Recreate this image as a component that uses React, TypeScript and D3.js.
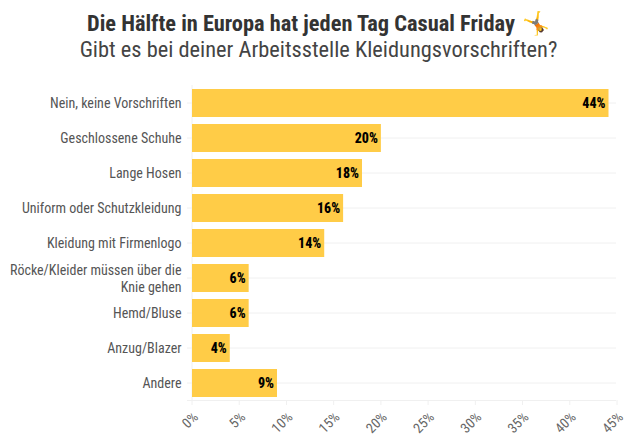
import React from "react";
import * as d3 from "d3";

const categories = ["Nein, keine Vorschriften", "Geschlossene Schuhe", "Lange Hosen", "Uniform oder Schutzkleidung", "Kleidung mit Firmenlogo", "Röcke/Kleider müssen über die|Knie gehen", "Hemd/Bluse", "Anzug/Blazer", "Andere"];
const values = [44.1, 20, 18, 16, 14, 6, 6, 4, 9];
const valueLabels = ["44%", "20%", "18%", "16%", "14%", "6%", "6%", "4%", "9%"];
const xTicks = [0, 5, 10, 15, 20, 25, 30, 35, 40, 45];

const W = 637, H = 443;
const cond = { fontStretch: "condensed" as const };

export default function App() {
  const x = d3.scaleLinear().domain([0, 45]).range([192, 617]);
  const y = d3.scaleBand<number>().domain(d3.range(categories.length)).range([85.5, 400.5]).paddingInner(0.2).paddingOuter(0.1);
  return (
    <svg width={W} height={H} style={{ position: "absolute", left: 0, top: 0, background: "#fff" }} fontFamily="Roboto">
      <g stroke="#f0f0f0" strokeWidth={1}>
        {categories.map((_, i) => {
          const cy = y(i)! + y.bandwidth() / 2;
          return <line key={i} x1={187} x2={616} y1={cy} y2={cy} />;
        })}
        <line x1={187} x2={616} y1={400.5} y2={400.5} />
        {xTicks.map(t => <line key={t} x1={x(t)} x2={x(t)} y1={t === 0 ? 85 : 400} y2={405} />)}
      </g>
      {values.map((v, i) => (
        <rect key={i} x={x(0)} y={y(i)} width={x(v) - x(0)} height={y.bandwidth()} fill="#FFCC47" />
      ))}
      {categories.map((c, i) => {
        const cy = y(i)! + y.bandwidth() / 2;
        const lines = c.split("|");
        return (
          <text key={i} textAnchor="end" fontSize={14} fill="#555" style={cond}>
            {lines.map((l, k) => (
              <tspan key={k} x={181.5} y={cy + 5 + (k - (lines.length - 1) / 2) * 17}>{l}</tspan>
            ))}
          </text>
        );
      })}
      {values.map((v, i) => (
        <text key={i} x={x(v) - 3} y={y(i)! + y.bandwidth() / 2 + 5} textAnchor="end" fontSize={14} fontWeight={800} fill="#000" style={cond}>{valueLabels[i]}</text>
      ))}
      {xTicks.map(t => (
        <text key={t} transform={`translate(${x(t) + 2},${413}) rotate(-45)`} textAnchor="end" fontSize={14} fill="#666" dy="0.5em" style={cond}>{t}%</text>
      ))}
      <text x={87} y={31} fontSize={22.4} fontWeight={700} fill="#333" style={cond}>Die Hälfte in Europa hat jeden Tag Casual Friday<tspan dx={7}>🤸</tspan></text>
      <text x={318.5} y={57} textAnchor="middle" fontSize={22.4} fill="#444" style={cond}>Gibt es bei deiner Arbeitsstelle Kleidungsvorschriften?</text>
    </svg>
  );
}
